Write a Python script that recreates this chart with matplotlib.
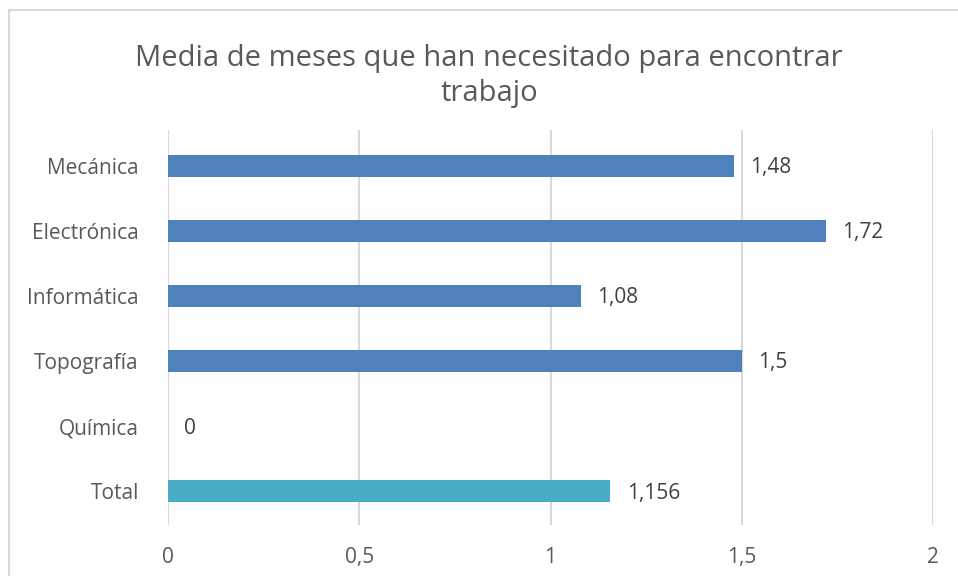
import matplotlib.pyplot as plt
from matplotlib.patches import Rectangle

categories = ['Total', 'Química', 'Topografía', 'Informática', 'Electrónica', 'Mecánica']
values = [1.156, 0, 1.5, 1.08, 1.72, 1.48]
labels = ['1,156', '0', '1,5', '1,08', '1,72', '1,48']
colors = ['#4bacc6', '#4f81bd', '#4f81bd', '#4f81bd', '#4f81bd', '#4f81bd']
xticks = [0, 0.5, 1, 1.5, 2]
xticklabels = ['0', '0,5', '1', '1,5', '2']

plt.rcParams['font.family'] = ['Open Sans', 'DejaVu Sans']

fig = plt.figure(figsize=(9.58, 5.76), dpi=100)
fig.patches.append(Rectangle((9 / 958, -0.1), 1.2, 1 - 10 / 576 + 0.1, transform=fig.transFigure,
                             fill=False, edgecolor='#d9d9d9', linewidth=1.5))
ax = fig.add_axes([168 / 958, 51 / 576, 765 / 958, 395 / 576])

y = range(len(categories))
ax.barh(y, values, height=0.34, color=colors, zorder=2)
for i, v in enumerate(values):
    ax.text(v + 0.043, i - 0.03, labels[i], va='center', ha='left', fontsize=15, color='#404040')

ax.set_xlim(0, 2)
ax.set_ylim(-0.52, 5.55)
ax.set_xticks(xticks)
ax.set_xticklabels(xticklabels)
ax.set_yticks(list(y))
ax.set_yticklabels(categories)
ax.tick_params(axis='both', length=0, labelsize=15, labelcolor='#595959')
ax.tick_params(axis='x', pad=16)
ax.tick_params(axis='y', pad=21)
ax.grid(axis='x', color='#d9d9d9', linewidth=1.5, zorder=0)
for s in ax.spines.values():
    s.set_visible(False)

fig.text(489 / 958, 1 - 76 / 576, 'Media de meses que han necesitado para encontrar\ntrabajo',
         ha='center', va='center', fontsize=21, color='#595959', linespacing=1.3)

fig.savefig('out.png', dpi=100)
